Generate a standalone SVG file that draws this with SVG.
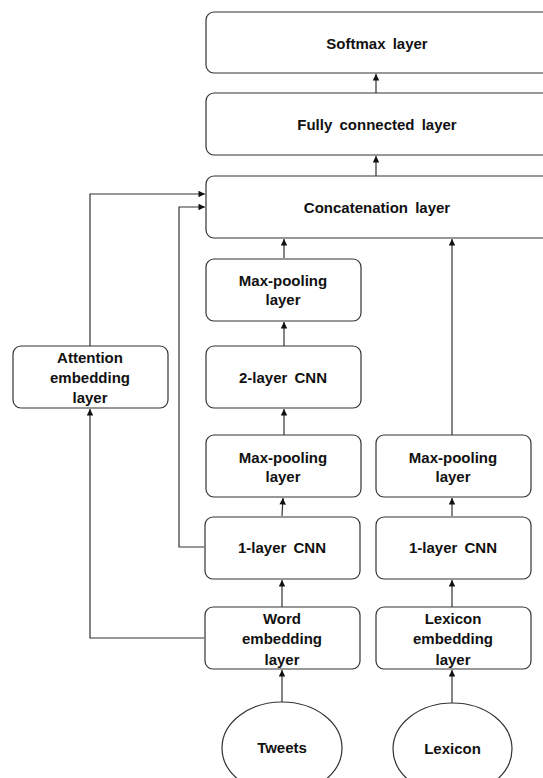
<svg xmlns="http://www.w3.org/2000/svg" width="543" height="778" viewBox="0 0 543 778">
<style>
.box{fill:#fff;stroke:#333;stroke-width:1.2}
.t{font-family:"Liberation Sans",Arial,sans-serif;font-weight:bold;font-size:15px;fill:#111;text-anchor:middle;dominant-baseline:central;word-spacing:3px}
.c{fill:none;stroke:#333;stroke-width:1.2}
</style>
<defs>
<marker id="ah" viewBox="0 0 10 10" refX="10" refY="5" markerWidth="8" markerHeight="6.5" markerUnits="userSpaceOnUse" orient="auto">
<path d="M0,0 L10,5 L0,10 z" fill="#111"/>
</marker>
</defs>
<g id="connectors">
<path class="c" d="M376,93 V74" marker-end="url(#ah)"/>
<path class="c" d="M376,176 V156" marker-end="url(#ah)"/>
<path class="c" d="M284,258 V239" marker-end="url(#ah)"/>
<path class="c" d="M452,435 V239" marker-end="url(#ah)"/>
<path class="c" d="M284,346 V322" marker-end="url(#ah)"/>
<path class="c" d="M284,435 V409" marker-end="url(#ah)"/>
<path class="c" d="M282,516 L283,498" marker-end="url(#ah)"/>
<path class="c" d="M452,516 V498" marker-end="url(#ah)"/>
<path class="c" d="M282,607 V580" marker-end="url(#ah)"/>
<path class="c" d="M452,607 V580" marker-end="url(#ah)"/>
<path class="c" d="M282,702 V670" marker-end="url(#ah)"/>
<path class="c" d="M452,703 V670" marker-end="url(#ah)"/>
<path class="c" d="M204,638 H90 V409" marker-end="url(#ah)"/>
<path class="c" d="M90,346 V194 H205" marker-end="url(#ah)"/>
<path class="c" d="M204,547 H179 V207 H205" marker-end="url(#ah)"/>
</g>
<g id="softmax"><rect class="box" x="206" y="12" width="346" height="61" rx="8"/><text class="t" x="377" y="43">Softmax layer</text></g>
<g id="fc"><rect class="box" x="206" y="93" width="346" height="62" rx="8"/><text class="t" x="377" y="124">Fully connected layer</text></g>
<g id="concat"><rect class="box" x="206" y="176" width="346" height="62" rx="8"/><text class="t" x="377" y="207">Concatenation layer</text></g>
<g id="maxpool2"><rect class="box" x="206" y="259" width="155" height="62" rx="8"/><text class="t" x="283" y="280.5">Max-pooling</text><text class="t" x="283" y="299.5">layer</text></g>
<g id="cnn2"><rect class="box" x="206" y="346" width="155" height="62" rx="8"/><text class="t" x="283" y="377">2-layer CNN</text></g>
<g id="attention"><rect class="box" x="13" y="346" width="155" height="62" rx="8"/><text class="t" x="90" y="357">Attention</text><text class="t" x="90" y="377">embedding</text><text class="t" x="90" y="397.5">layer</text></g>
<g id="maxpool1"><rect class="box" x="206" y="435" width="155" height="62" rx="8"/><text class="t" x="283" y="457">Max-pooling</text><text class="t" x="283" y="476">layer</text></g>
<g id="maxpoolL"><rect class="box" x="376" y="435" width="155" height="62" rx="8"/><text class="t" x="453" y="457">Max-pooling</text><text class="t" x="453" y="476">layer</text></g>
<g id="cnn1"><rect class="box" x="205" y="517" width="155" height="62" rx="8"/><text class="t" x="282" y="547">1-layer CNN</text></g>
<g id="cnnL"><rect class="box" x="376" y="517" width="155" height="62" rx="8"/><text class="t" x="453" y="547">1-layer CNN</text></g>
<g id="wordemb"><rect class="box" x="205" y="607" width="155" height="62" rx="8"/><text class="t" x="282" y="618.5">Word</text><text class="t" x="282" y="638.5">embedding</text><text class="t" x="282" y="659">layer</text></g>
<g id="lexemb"><rect class="box" x="376" y="607" width="155" height="62" rx="8"/><text class="t" x="453" y="618.5">Lexicon</text><text class="t" x="453" y="638.5">embedding</text><text class="t" x="453" y="659">layer</text></g>
<g id="tweets"><ellipse class="box" cx="282" cy="748" rx="60" ry="46"/><text class="t" x="282" y="747">Tweets</text></g>
<g id="lexicon"><ellipse class="box" cx="452.5" cy="749" rx="59.5" ry="46"/><text class="t" x="452.5" y="748">Lexicon</text></g>
</svg>
